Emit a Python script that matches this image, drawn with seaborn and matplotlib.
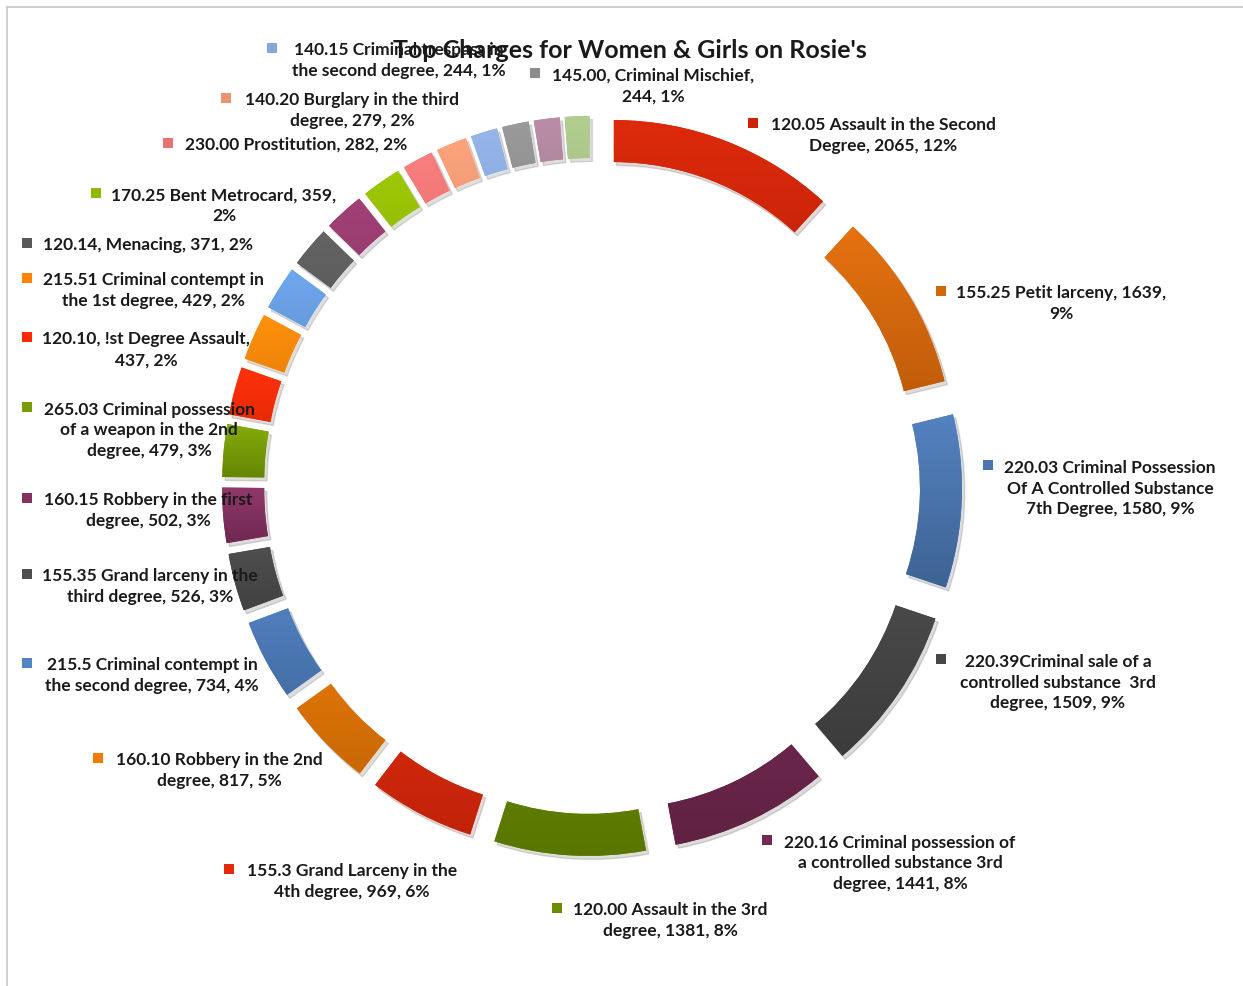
import textwrap
import numpy as np
import matplotlib
matplotlib.use("Agg")
import matplotlib.pyplot as plt
import matplotlib.colors as mcolors
import seaborn as sns

# ---------------- data ----------------
charges = [
    "120.05 Assault in the Second Degree",
    "155.25 Petit larceny",
    "220.03 Criminal Possession Of A Controlled Substance 7th Degree",
    "220.39Criminal sale of a controlled substance  3rd degree",
    "220.16 Criminal possession of a controlled substance 3rd degree",
    "120.00 Assault in the 3rd degree",
    "155.3 Grand Larceny in the 4th degree",
    "160.10 Robbery in the 2nd degree",
    "215.5 Criminal contempt in the second degree",
    "155.35 Grand larceny in the third degree",
    "160.15 Robbery in the first degree",
    "265.03 Criminal possession of a weapon in the 2nd degree",
    "120.10, !st Degree Assault",
    "215.51 Criminal contempt in the 1st degree",
    "(unlabeled A)",
    "120.14, Menacing",
    "(unlabeled B)",
    "170.25 Bent Metrocard",
    "230.00 Prostitution",
    "140.20 Burglary in the third degree",
    "140.15 Criminal trespass in the second degree",
    "145.00, Criminal Mischief",
    "(unlabeled C)",
    "(unlabeled D)",
]
counts = [2065, 1639, 1580, 1509, 1441, 1381, 969, 817, 734, 526, 502, 479,
          437, 429, 400, 371, 365, 359, 282, 279, 244, 244, 235, 225]
show_label = [True] * 14 + [False, True, False, True, True, True, True, True, False, False]
title = "Top Charges for Women & Girls on Rosie's"

# ---------------- style ----------------
colors = ["#CC2206", "#D4660A", "#4A76B0", "#474747", "#722850", "#6A8C00",
          "#E52A0B", "#F07C05", "#5284C6", "#4E4E4E", "#843060", "#789E05",
          "#FA2A05", "#FA8405", "#6499DC", "#595959", "#93386A", "#90B800",
          "#E87272", "#EA9570", "#88A6D8", "#8C8C8C", "#A98097", "#A2BD82"]

# label layout in pixels: (marker_x, text_center_x, first_line_y, wrap_width)
layout = [
    (753, 883, 125, 28), (941, 1061, 293, 27), (988, 1110, 467, 26),
    (941, 1058, 661, 25), (767, 900, 842, 29), (557, 670, 910, 25),
    (229, 352, 871, 26), (98, 219, 760, 25), (27, 152, 665, 26),
    (27, 150, 576, 27), (27, 148, 500, 27), (27, 149, 409, 26),
    (27, 146, 339, 27), (27, 153, 280, 27), None,
    (27, 148, 245, 40), None, (96, 224, 195, 27),
    (168, 296, 145, 40), (226, 352, 100, 28), (272, 399, 50, 27),
    (535, 653, 75, 26), None, None,
]

W, H = 1243, 986
CX, CY = 592, 486          # pie centre (pixels from top-left)
R = 310
EXPLODE = 60
RING = 42
LINE = 21.5
FS = 12.5

sns.set_theme(style="white")
plt.rcParams["font.family"] = ["Lato", "DejaVu Sans"]

fig = plt.figure(figsize=(W / 100, H / 100), dpi=100)
ax = fig.add_axes([0, 0, 1, 1])
ax.set_facecolor("white")

wedges, _ = ax.pie(counts, colors=colors, startangle=90, counterclock=False,
                   radius=R, center=(CX, H - CY), explode=[EXPLODE] * len(counts),
                   wedgeprops=dict(width=RING, edgecolor="none"), normalize=True,
                   shadow=dict(ox=2.0, oy=-2.5, shade=0.75, alpha=0.15))

# vertical gradient fill clipped to each wedge
for w, c in zip(wedges, colors):
    verts = w.get_path().vertices
    x0, y0 = verts.min(axis=0)
    x1, y1 = verts.max(axis=0)
    base = np.array(mcolors.to_rgb(c))
    top = np.clip(base * 1.06 + 0.02, 0, 1)
    bot = np.clip(base * 0.84, 0, 1)
    cmap = mcolors.LinearSegmentedColormap.from_list("g", [bot, top])
    grad = np.linspace(0, 1, 64).reshape(-1, 1)
    im = ax.imshow(grad, extent=[x0, x1, y0, y1], origin="lower", cmap=cmap,
                   aspect="auto", zorder=w.get_zorder() + 0.1, interpolation="bilinear")
    im.set_clip_path(w)

total = sum(counts)
for i, (name, v, c, show, lay) in enumerate(zip(charges, counts, colors, show_label, layout)):
    if not show or lay is None:
        continue
    mx, tx, ty, ww = lay
    pct = round(v / total * 100)
    full = f"{name}, {v}, {pct}%"
    txt = textwrap.fill(full, width=ww, break_long_words=False)
    n = txt.count("\n") + 1
    ymid = ty + (n - 1) * LINE / 2
    ax.text(tx, H - ymid, txt, ha="center", va="center", multialignment="center",
            fontsize=FS, fontweight="bold", color="#1a1a1a", linespacing=1.38, zorder=5)
    ax.scatter([mx], [H - ty + 2], marker="s", s=45, color=c, linewidths=0, zorder=5)

ax.text(630, H - 50, title, ha="center", va="center", fontsize=18,
        fontweight="bold", color="#1a1a1a", zorder=6)

# thin frame lines
ax.plot([7, 7], [0, H - 7], color="#C8C8C8", lw=1.2, zorder=1)
ax.plot([7, W], [H - 7, H - 7], color="#C8C8C8", lw=1.2, zorder=1)

ax.set_xlim(0, W)
ax.set_ylim(0, H)
ax.set_aspect("auto")
ax.axis("off")

fig.savefig("out.png", dpi=100, facecolor="white")
